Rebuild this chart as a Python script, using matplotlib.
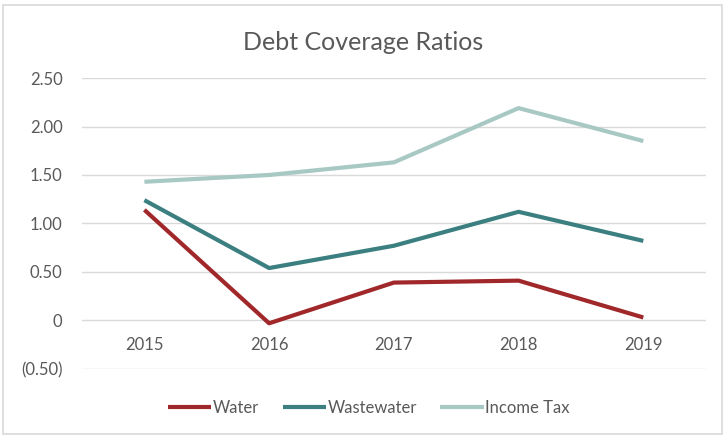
import matplotlib.pyplot as plt
from matplotlib.patches import Rectangle

# Daten
years = ['2015', '2016', '2017', '2018', '2019']
water = [1.14, -0.03, 0.39, 0.41, 0.03]
wastewater = [1.24, 0.54, 0.77, 1.12, 0.82]
income_tax = [1.43, 1.50, 1.63, 2.19, 1.85]
y_ticks = [-0.5, 0, 0.5, 1.0, 1.5, 2.0, 2.5]
y_labels = ['(0.50)', '0', '0.50', '1.00', '1.50', '2.00', '2.50']

plt.rcParams['font.family'] = ['Lato', 'DejaVu Sans']
text_col = '#595959'

fig = plt.figure(figsize=(7.26, 4.36), dpi=100)
ax = fig.add_axes([0.113, 0.154, 0.859, 0.667])

x = range(len(years))
ax.plot(x, water, color='#A0282A', linewidth=3, label='Water', solid_capstyle='butt')
ax.plot(x, wastewater, color='#3B7F80', linewidth=3, label='Wastewater', solid_capstyle='butt')
ax.plot(x, income_tax, color='#A8C8C4', linewidth=3, label='Income Tax', solid_capstyle='butt')

ax.set_xlim(-0.5, 4.5)
ax.set_ylim(-0.5, 2.5)
ax.set_yticks(y_ticks)
ax.set_yticklabels(y_labels)
ax.grid(axis='y', color='#D9D9D9', linewidth=1)
ax.set_axisbelow(True)

# Kategorien unter der Null-Linie
ax.set_xticks(list(x))
ax.set_xticklabels(years)
ax.spines['bottom'].set_position(('data', 0))
for s in ax.spines.values():
    s.set_visible(False)
ax.tick_params(axis='x', length=0, pad=12, labelsize=12, labelcolor=text_col)
ax.tick_params(axis='y', length=0, pad=14, labelsize=12, labelcolor=text_col)

fig.suptitle('Debt Coverage Ratios', x=0.5, y=0.93, fontsize=18, color=text_col)

ax.legend(loc='center', bbox_to_anchor=(0.46, -0.135), ncol=3, frameon=False,
          handlelength=2.6, handletextpad=0.1, columnspacing=1.4,
          fontsize=12, labelcolor=text_col)

fig.patches.append(Rectangle((0.004, 0.004), 0.99, 0.985, transform=fig.transFigure,
                             fill=False, edgecolor='#D9D9D9', linewidth=1.2))

plt.savefig('out.png', dpi=100)
